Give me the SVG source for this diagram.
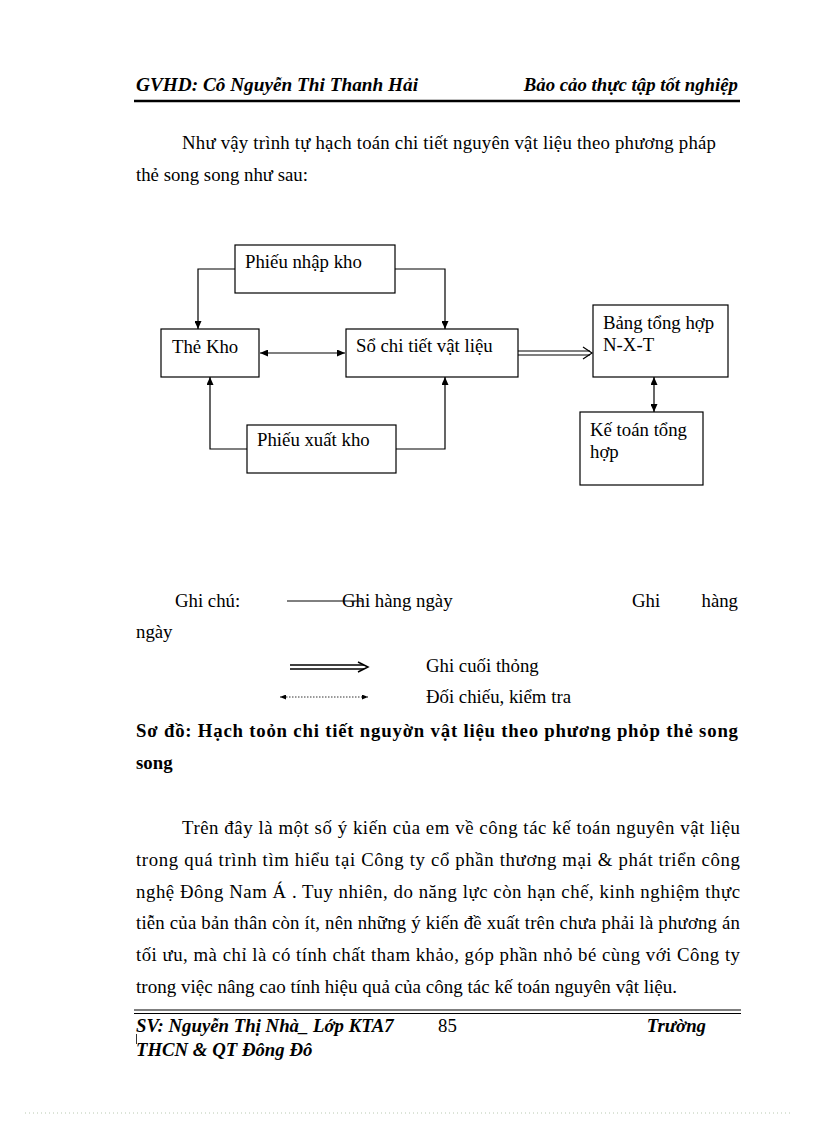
<svg xmlns="http://www.w3.org/2000/svg" width="816" height="1123" viewBox="0 0 816 1123">
<style>
.t{font-family:"Liberation Serif","Times New Roman",serif;font-size:18.8px;fill:#000}
.bi{font-family:"Liberation Serif","Times New Roman",serif;font-size:18.8px;font-weight:bold;font-style:italic;fill:#000}
.b{font-family:"Liberation Serif","Times New Roman",serif;font-size:18.8px;font-weight:bold;fill:#000}
.box{fill:#fff;stroke:#000;stroke-width:1.2}
.ln{fill:none;stroke:#000;stroke-width:1.2}
</style>
<defs>
<marker id="ah" viewBox="0 0 8 7" refX="8" refY="3.5" markerWidth="8" markerHeight="7" markerUnits="userSpaceOnUse" orient="auto-start-reverse">
<path d="M0,0 L8,3.5 L0,7 z" fill="#000"/>
</marker>
<marker id="ahs" viewBox="0 0 6 5" refX="6" refY="2.5" markerWidth="6" markerHeight="5" markerUnits="userSpaceOnUse" orient="auto-start-reverse">
<path d="M0,0 L6,2.5 L0,5 z" fill="#000"/>
</marker>
</defs>
<rect width="816" height="1123" fill="#fff"/>

<g id="header">
<text class="bi" x="136" y="91" textLength="282" lengthAdjust="spacingAndGlyphs">GVHD: Cô Nguyễn Thi Thanh Hải</text>
<text class="bi" x="738" y="91" text-anchor="end">Bảo cảo thực tập tốt nghiệp</text>
<line x1="134" y1="101" x2="740" y2="101" stroke="#000" stroke-width="2.5"/>
</g>

<g id="intro">
<text class="t" x="182" y="149" textLength="534" lengthAdjust="spacing">Như vậy trình tự hạch toán chi tiết nguyên vật liệu theo phương pháp</text>
<text class="t" x="136" y="181">thẻ song song như sau:</text>
</g>

<g id="connectors">
<polyline class="ln" points="235,269 198,269 198,329" marker-end="url(#ah)"/>
<polyline class="ln" points="395,269 445,269 445,329" marker-end="url(#ah)"/>
<line class="ln" x1="260" y1="353" x2="345" y2="353" marker-start="url(#ah)" marker-end="url(#ah)"/>
<polyline class="ln" points="247,449 210,449 210,377" marker-end="url(#ah)"/>
<polyline class="ln" points="396,449 445,449 445,377" marker-end="url(#ah)"/>
<line class="ln" x1="518" y1="351" x2="590" y2="351"/>
<line class="ln" x1="518" y1="355" x2="590" y2="355"/>
<polyline class="ln" points="583,347 592,353 583,359" stroke-width="1.5"/>
<line class="ln" x1="654" y1="377" x2="654" y2="412" marker-start="url(#ah)" marker-end="url(#ah)"/>
</g>

<g id="phieu-nhap">
<rect class="box" x="235" y="245" width="160" height="48"/>
<text class="t" x="245" y="268">Phiếu nhập kho</text>
</g>
<g id="the-kho">
<rect class="box" x="161" y="329" width="98" height="48"/>
<text class="t" x="172" y="353">Thẻ Kho</text>
</g>
<g id="so-chi-tiet">
<rect class="box" x="346" y="329" width="172" height="48"/>
<text class="t" x="356" y="352">Sổ chi tiết vật liệu</text>
</g>
<g id="phieu-xuat">
<rect class="box" x="247" y="425" width="149" height="48"/>
<text class="t" x="257" y="446">Phiếu xuất kho</text>
</g>
<g id="bang-tong-hop">
<rect class="box" x="593" y="305" width="135" height="72"/>
<text class="t" x="603" y="329">Bảng tổng hợp</text>
<text class="t" x="603" y="351">N-X-T</text>
</g>
<g id="ke-toan">
<rect class="box" x="580" y="412" width="123" height="73"/>
<text class="t" x="590" y="436">Kế toán tổng</text>
<text class="t" x="590" y="458">hợp</text>
</g>

<g id="legend">
<text class="t" x="175" y="607">Ghi chú:</text>
<line x1="287" y1="601" x2="362" y2="601" stroke="#000" stroke-width="1"/>
<text class="t" x="342" y="607">Ghi hàng ngày</text>
<text class="t" x="632" y="607">Ghi</text>
<text class="t" x="738" y="607" text-anchor="end">hàng</text>
<text class="t" x="136" y="638">ngày</text>
<line x1="290" y1="665" x2="364" y2="665" stroke="#000" stroke-width="1.3"/>
<line x1="290" y1="669" x2="364" y2="669" stroke="#000" stroke-width="1.3"/>
<polyline points="358,662 368,667 358,672" fill="none" stroke="#000" stroke-width="1.5"/>
<text class="t" x="426" y="672">Ghi cuối thỏng</text>
<line x1="280" y1="697" x2="368" y2="697" stroke="#000" stroke-width="0.8" stroke-dasharray="1.5,1.5" marker-start="url(#ahs)" marker-end="url(#ahs)"/>
<text class="t" x="426" y="703">Đối chiếu, kiểm tra</text>
</g>

<g id="caption">
<text class="b" x="136" y="737" textLength="602" lengthAdjust="spacing">Sơ đồ: Hạch toỏn chi tiết nguyờn vật liệu theo phương phỏp thẻ song</text>
<text class="b" x="136" y="769">song</text>
</g>

<g id="paragraph">
<text class="t" x="182" y="834" textLength="558" lengthAdjust="spacing">Trên đây là một số ý kiến của em về công tác kế toán nguyên vật liệu</text>
<text class="t" x="136" y="866" textLength="604" lengthAdjust="spacing">trong quá trình tìm hiểu tại Công ty cổ phần thương mại &amp; phát triển công</text>
<text class="t" x="136" y="898" textLength="604" lengthAdjust="spacing">nghệ Đông Nam Á . Tuy nhiên, do năng lực còn hạn chế, kinh nghiệm thực</text>
<text class="t" x="136" y="929" textLength="604" lengthAdjust="spacing">tiễn của bản thân còn ít, nên những ý kiến đề xuất trên chưa phải là phương án</text>
<text class="t" x="136" y="961" textLength="604" lengthAdjust="spacing">tối ưu, mà chỉ là có tính chất tham khảo, góp phần nhỏ bé cùng với Công ty</text>
<text class="t" x="136" y="993" textLength="541" lengthAdjust="spacingAndGlyphs">trong việc nâng cao tính hiệu quả của công tác kế toán nguyên vật liệu.</text>
</g>

<g id="footer">
<line x1="134" y1="1010" x2="741" y2="1010" stroke="#000" stroke-width="1.2"/>
<line x1="134" y1="1013.5" x2="741" y2="1013.5" stroke="#000" stroke-width="1.2"/>
<text class="bi" x="136" y="1032">SV: Nguyễn Thị Nhà_ Lớp KTA7</text>
<text class="t" x="438" y="1032">85</text>
<text class="bi" x="706" y="1032" text-anchor="end">Trường</text>
<line x1="136.5" y1="1034" x2="136.5" y2="1044" stroke="#000" stroke-width="0.8"/>
<text class="bi" x="136" y="1056">THCN &amp; QT Đông Đô</text>
<line x1="25" y1="1113" x2="790" y2="1113" stroke="#b8c8b0" stroke-width="1" stroke-dasharray="1,3"/>
</g>
</svg>
